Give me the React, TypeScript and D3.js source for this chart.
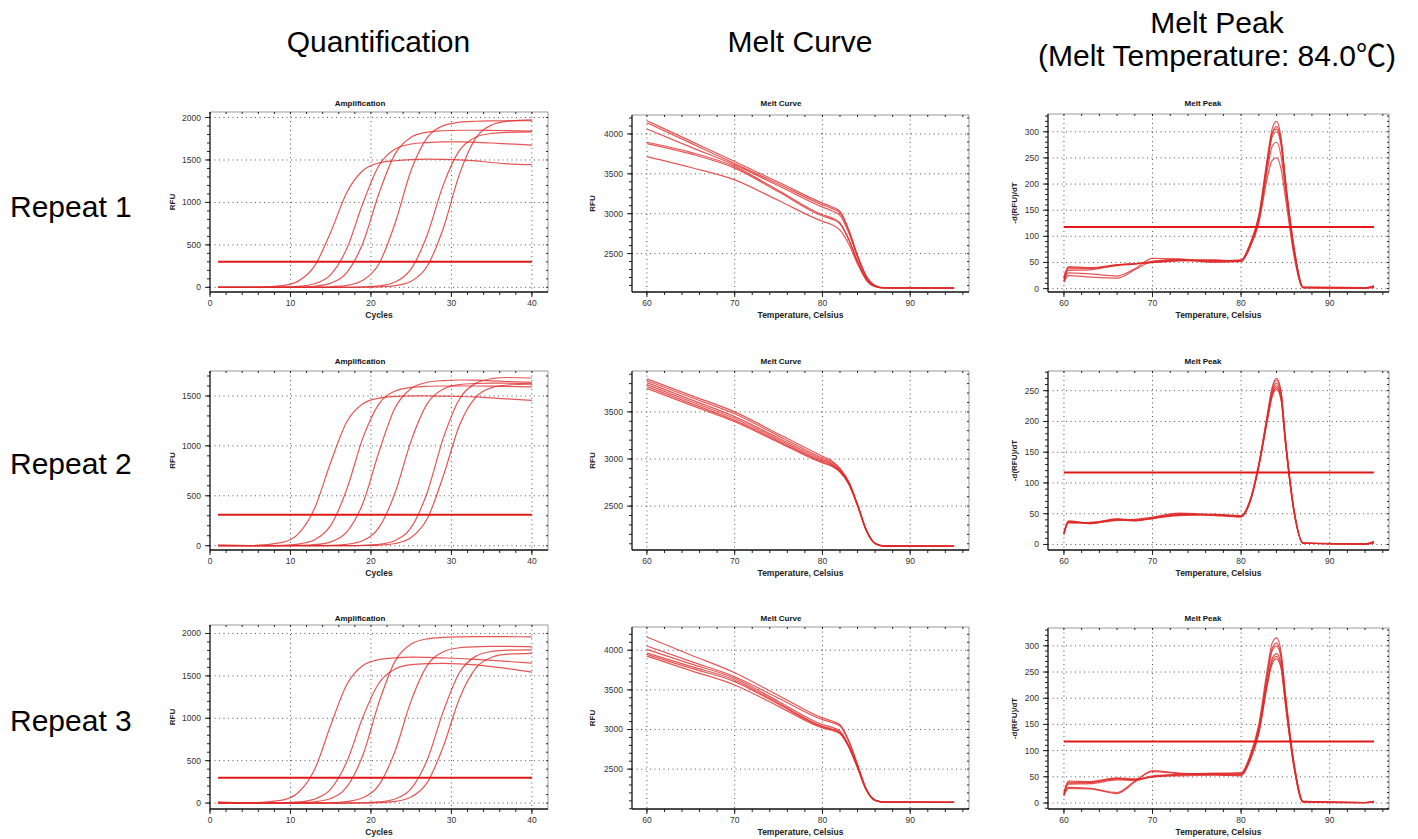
import React from 'react';
import * as d3 from 'd3';

// ---- amplification (RFU vs cycle) ----
const CYCLES = [1, 5, 9, 11, 13, 15, 17, 19, 21, 23, 25, 27, 29, 31, 33, 35, 37, 40];

const AMP_R1 = [
  [0, 1, 21, 76, 252, 650, 1118, 1376, 1466, 1491, 1505, 1510, 1508, 1502, 1490, 1470, 1455, 1445],
  [0, 0, 3, 11, 42, 149, 457, 991, 1435, 1628, 1688, 1705, 1712, 1712, 1708, 1700, 1690, 1675],
  [0, 0, 0, 3, 13, 49, 174, 523, 1108, 1572, 1768, 1827, 1844, 1850, 1850, 1848, 1846, 1840],
  [0, 0, 0, 0, 2, 6, 22, 82, 278, 755, 1382, 1764, 1905, 1945, 1956, 1960, 1962, 1962],
  [0, 0, 0, 0, 0, 0, 1, 5, 17, 63, 218, 620, 1210, 1612, 1768, 1813, 1825, 1830],
  [0, 0, 0, 0, 0, 0, 0, 1, 5, 20, 72, 251, 699, 1333, 1754, 1911, 1957, 1973],
];
const AMP_R2 = [
  [5, 2, 34, 121, 375, 836, 1242, 1422, 1479, 1495, 1500, 1500, 1498, 1495, 1490, 1480, 1470, 1455],
  [3, 0, 4, 16, 59, 203, 566, 1080, 1421, 1549, 1586, 1597, 1600, 1600, 1600, 1598, 1595, 1590],
  [0, 0, 1, 3, 10, 39, 138, 425, 941, 1381, 1575, 1637, 1654, 1660, 1658, 1652, 1645, 1637],
  [0, 0, 0, 0, 1, 4, 14, 52, 183, 530, 1053, 1423, 1570, 1614, 1625, 1628, 1628, 1622],
  [0, 0, 0, 0, 0, 0, 1, 4, 14, 53, 184, 536, 1080, 1470, 1626, 1673, 1685, 1680],
  [0, 0, 0, 0, 0, 0, 0, 2, 6, 22, 82, 272, 701, 1207, 1486, 1583, 1610, 1620],
];
const AMP_R3 = [
  [15, 3, 35, 127, 397, 917, 1398, 1622, 1692, 1712, 1720, 1718, 1712, 1705, 1695, 1682, 1670, 1650],
  [5, 0, 3, 13, 47, 165, 487, 1015, 1416, 1581, 1632, 1645, 1648, 1642, 1630, 1610, 1585, 1545],
  [0, 0, 1, 4, 15, 54, 190, 566, 1188, 1674, 1876, 1937, 1954, 1960, 1962, 1962, 1962, 1960],
  [0, 0, 0, 0, 1, 4, 17, 62, 214, 614, 1208, 1624, 1784, 1832, 1843, 1848, 1848, 1843],
  [0, 0, 0, 0, 0, 0, 1, 3, 13, 48, 170, 512, 1084, 1539, 1730, 1788, 1803, 1806],
  [0, 0, 0, 0, 0, 0, 0, 1, 5, 19, 71, 244, 669, 1234, 1588, 1719, 1756, 1765],
];
const AMP_THRESHOLDS = [300, 310, 300];

// ---- melt curve (RFU vs temperature) ----
const MELT_T = [60, 65, 70, 75, 80, 81, 82, 83, 84, 85, 86, 87, 95];

const MELT_R1 = [
  [4166, 3910, 3654, 3395, 3133, 3090, 3030, 2800, 2480, 2220, 2100, 2072, 2068],
  [4140, 3885, 3630, 3372, 3112, 3070, 3012, 2785, 2465, 2212, 2096, 2071, 2068],
  [4062, 3835, 3612, 3350, 3083, 3040, 2980, 2760, 2450, 2200, 2094, 2070, 2067],
  [3896, 3770, 3591, 3290, 2987, 2950, 2885, 2680, 2400, 2180, 2090, 2069, 2067],
  [3880, 3750, 3572, 3275, 2972, 2935, 2872, 2672, 2395, 2178, 2089, 2069, 2066],
  [3716, 3580, 3425, 3165, 2904, 2865, 2795, 2620, 2370, 2165, 2085, 2068, 2066],
];
const MELT_R2 = [
  [3850, 3675, 3500, 3265, 3030, 2985, 2900, 2760, 2520, 2250, 2105, 2078, 2075],
  [3830, 3655, 3480, 3245, 3010, 2970, 2890, 2750, 2515, 2245, 2104, 2078, 2075],
  [3810, 3630, 3450, 3222, 2995, 2955, 2880, 2745, 2510, 2244, 2104, 2077, 2074],
  [3790, 3610, 3430, 3205, 2980, 2943, 2872, 2740, 2508, 2242, 2103, 2077, 2074],
  [3770, 3590, 3410, 3189, 2968, 2933, 2866, 2736, 2505, 2240, 2102, 2076, 2073],
  [3750, 3572, 3395, 3176, 2958, 2925, 2860, 2732, 2502, 2238, 2101, 2076, 2073],
];
const MELT_R3 = [
  [4166, 3940, 3716, 3430, 3146, 3110, 3060, 2860, 2560, 2250, 2110, 2085, 2083],
  [4054, 3860, 3666, 3395, 3125, 3090, 3045, 2850, 2550, 2245, 2108, 2085, 2083],
  [4009, 3828, 3646, 3354, 3062, 3030, 2980, 2800, 2530, 2240, 2107, 2084, 2082],
  [3966, 3796, 3625, 3333, 3041, 3010, 2965, 2790, 2525, 2238, 2106, 2084, 2082],
  [3946, 3775, 3604, 3318, 3033, 3000, 2955, 2783, 2520, 2236, 2106, 2084, 2082],
  [3925, 3743, 3562, 3292, 3021, 2990, 2945, 2775, 2515, 2234, 2105, 2083, 2082],
];

// ---- melt peak (-d(RFU)/dT vs temperature) ----
const PEAK_T = [60, 60.5, 63, 66, 68, 70, 73, 77, 80, 81, 82, 83, 83.5, 84, 84.5, 85, 86, 87, 94, 95];

const PEAK_R1 = [
  [20, 42, 40, 46, 48, 50, 54, 53, 54, 85, 140, 255, 305, 320, 290, 210, 78, 3, 2, 4],
  [15, 38, 38, 44, 47, 52, 55, 54, 53, 82, 135, 245, 295, 310, 285, 205, 72, 2, 1, 5],
  [18, 35, 36, 45, 48, 50, 53, 55, 52, 80, 132, 240, 290, 300, 275, 200, 70, 2, 1, 3],
  [14, 30, 28, 24, 38, 58, 57, 53, 55, 84, 130, 230, 272, 280, 255, 190, 66, 2, 1, 2],
  [12, 25, 22, 20, 36, 52, 56, 50, 52, 78, 125, 215, 245, 250, 230, 175, 60, 2, 1, 3],
  [22, 40, 39, 45, 47, 50, 54, 52, 53, 84, 138, 248, 298, 305, 282, 205, 75, 3, 2, 6],
];
const PEAK_R2 = [
  [18, 38, 35, 40, 40, 43, 48, 48, 46, 70, 130, 215, 255, 270, 250, 175, 55, 3, 1, 4],
  [16, 36, 35, 39, 41, 44, 50, 47, 45, 68, 128, 212, 252, 267, 248, 172, 54, 2, 1, 3],
  [20, 37, 34, 41, 39, 42, 49, 49, 47, 72, 132, 210, 248, 262, 245, 170, 52, 2, 1, 5],
  [17, 35, 36, 40, 38, 44, 51, 48, 46, 70, 126, 208, 245, 258, 240, 168, 52, 2, 0, 2],
  [19, 38, 35, 42, 40, 43, 47, 49, 45, 69, 127, 205, 242, 255, 238, 166, 50, 2, 1, 3],
  [18, 36, 34, 40, 39, 42, 48, 48, 46, 71, 129, 204, 240, 252, 236, 165, 50, 2, 1, 4],
];
const PEAK_R3 = [
  [18, 40, 40, 47, 45, 50, 55, 57, 58, 90, 150, 260, 305, 315, 290, 210, 75, 3, 1, 2],
  [15, 38, 39, 46, 44, 52, 54, 56, 56, 88, 145, 250, 295, 305, 282, 205, 72, 3, 1, 3],
  [20, 42, 41, 48, 46, 50, 53, 55, 55, 86, 142, 245, 290, 300, 278, 200, 70, 2, 1, 2],
  [14, 28, 27, 18, 40, 62, 57, 55, 54, 84, 138, 235, 275, 285, 268, 195, 68, 2, 0, 2],
  [16, 30, 28, 20, 42, 60, 56, 54, 53, 82, 135, 232, 270, 280, 262, 192, 66, 2, 1, 3],
  [17, 36, 37, 44, 43, 50, 52, 53, 52, 80, 132, 228, 265, 275, 258, 188, 65, 2, 1, 2],
];
const PEAK_THRESHOLDS = [118, 117, 117.5];

// tick labels
const AMP_X_TICKS = [0, 10, 20, 30, 40];
const AMP_Y_TICKS = [0, 500, 1000, 1500, 2000];
const TEMP_X_TICKS = [60, 70, 80, 90];
const MELT_Y_TICKS = [2500, 3000, 3500, 4000];
const PEAK_Y_TICKS = [0, 50, 100, 150, 200, 250, 300];

const COLUMN_HEADERS = ['Quantification', 'Melt Curve'];
const PEAK_HEADER = ['Melt Peak', '(Melt Temperature: 84.0\u2103)'];
const ROW_LABELS = ['Repeat 1', 'Repeat 2', 'Repeat 3'];

const FONT = '"Liberation Sans", Arial, "Noto Sans CJK SC", sans-serif';
const RED = '#e02a2a';

type PanelProps = {
  left: number; right: number; top: number; bottom: number;
  xDomain: [number, number]; yDomain: [number, number];
  xTicks: number[]; yTicks: number[]; xStep: number; yStep: number;
  title: string; titleX: number; titleY: number;
  xLabel: string; yLabel: string; yLabelX: number;
  xs: number[]; series: number[][];
  threshold: number; thrRange: [number, number];
};

function Panel(p: PanelProps) {
  const x = d3.scaleLinear().domain(p.xDomain).range([p.left, p.right]);
  const y = d3.scaleLinear().domain(p.yDomain).range([p.bottom, p.top]);
  const line = d3.line<[number, number]>()
    .x(d => x(d[0]))
    .y(d => y(d[1]))
    .curve(d3.curveMonotoneX);

  const xMinor = d3.range(Math.ceil(p.xDomain[0] / p.xStep) * p.xStep, p.xDomain[1], p.xStep);
  const yMinor = d3.range(Math.ceil(p.yDomain[0] / p.yStep) * p.yStep, p.yDomain[1], p.yStep);

  return (
    <g fontFamily={FONT}>
      <text x={p.titleX} y={p.titleY} textAnchor="middle" fontSize={8} fontWeight="bold" fill="#111">{p.title}</text>

      {/* dotted grid */}
      <g stroke="#555" strokeWidth={1} strokeDasharray="1 3.5">
        {p.xTicks.filter(t => x(t) > p.left + 1).map(t => (
          <line key={'gx' + t} x1={x(t)} x2={x(t)} y1={p.top} y2={p.bottom} />
        ))}
        {p.yTicks.filter(t => y(t) < p.bottom - 1).map(t => (
          <line key={'gy' + t} x1={p.left} x2={p.right} y1={y(t)} y2={y(t)} />
        ))}
      </g>

      {/* frame */}
      <line x1={p.left} x2={p.right} y1={p.top} y2={p.top} stroke="#999" />
      <line x1={p.right} x2={p.right} y1={p.top} y2={p.bottom} stroke="#999" />
      <g stroke="#222" strokeWidth={1}>
        {xMinor.map(t => (
          <g key={'mx' + t}>
            <line x1={x(t)} x2={x(t)} y1={p.bottom} y2={p.bottom + 3} />
            <line x1={x(t)} x2={x(t)} y1={p.top} y2={p.top + 2} />
          </g>
        ))}
        {yMinor.map(t => (
          <g key={'my' + t}>
            <line x1={p.left - 3} x2={p.left} y1={y(t)} y2={y(t)} />
            <line x1={p.right - 2} x2={p.right} y1={y(t)} y2={y(t)} />
          </g>
        ))}
        {p.xTicks.map(t => (
          <line key={'tx' + t} x1={x(t)} x2={x(t)} y1={p.bottom} y2={p.bottom + 5} />
        ))}
        {p.yTicks.map(t => (
          <line key={'ty' + t} x1={p.left - 5} x2={p.left} y1={y(t)} y2={y(t)} />
        ))}
      </g>
      <line x1={p.left} x2={p.left} y1={p.top} y2={p.bottom} stroke="#111" strokeWidth={1.3} />
      <line x1={p.left} x2={p.right} y1={p.bottom} y2={p.bottom} stroke="#111" strokeWidth={1.3} />

      {/* tick labels */}
      <g fontSize={8.5} fill="#333">
        {p.xTicks.map(t => (
          <text key={'lx' + t} x={x(t)} y={p.bottom + 14} textAnchor="middle">{t}</text>
        ))}
        {p.yTicks.map(t => (
          <text key={'ly' + t} x={p.left - 9} y={y(t) + 3} textAnchor="end">{t}</text>
        ))}
      </g>

      <text x={(p.left + p.right) / 2} y={p.bottom + 26} textAnchor="middle" fontSize={8.5} fontWeight="bold" fill="#222">{p.xLabel}</text>
      <text transform={`translate(${p.yLabelX},${(p.top + p.bottom) / 2}) rotate(-90)`} textAnchor="middle" fontSize={8} fontWeight="bold" fill="#222">{p.yLabel}</text>

      {/* curves */}
      <g fill="none" stroke={RED} strokeWidth={1.2} strokeOpacity={0.8}>
        {p.series.map((s, i) => (
          <path key={'s' + i} d={line(p.xs.map((v, j) => [v, s[j]] as [number, number])) || ''} />
        ))}
      </g>
      {Number.isFinite(p.threshold) && (
        <line x1={x(p.thrRange[0])} x2={x(p.thrRange[1])} y1={y(p.threshold)} y2={y(p.threshold)} stroke="#e01818" strokeWidth={2} />
      )}
    </g>
  );
}

// frame boxes per row: [top, bottom] for the three columns
const ROW_FRAMES: [number, number][][] = [
  [[112, 292], [115, 292], [114, 292]],
  [[371, 550], [371, 550], [371, 550]],
  [[625, 809], [627, 809], [628, 809]],
];
const TITLE_Y = [106, 364, 621];
const LABEL_Y = [217, 474, 731];

export default function App() {
  const ampRows = [AMP_R1, AMP_R2, AMP_R3];
  const meltRows = [MELT_R1, MELT_R2, MELT_R3];
  const peakRows = [PEAK_R1, PEAK_R2, PEAK_R3];
  const ampY: [number, number][] = [[-55, 2065], [-43, 1750], [-70, 2100]];
  const meltY: [number, number][] = [[2018, 4238], [2034, 3934], [1997, 4293]];
  const peakY: [number, number][] = [[-6.5, 334], [-9, 282], [-11.4, 334]];

  return (
    <div style={{ position: 'absolute', left: 0, top: 0, background: '#fff' }}>
      <svg width={1418} height={839} style={{ display: 'block' }}>
        <rect width={1418} height={839} fill="#fff" />
        <g fontFamily={FONT} fontSize={30} fill="#000">
          <text x={378.5} y={52} textAnchor="middle">{COLUMN_HEADERS[0]}</text>
          <text x={800} y={52} textAnchor="middle">{COLUMN_HEADERS[1]}</text>
          <text x={1217} y={33} textAnchor="middle">{PEAK_HEADER[0]}</text>
          <text x={1217} y={66} textAnchor="middle">{PEAK_HEADER[1]}</text>
          {ROW_LABELS.map((l, i) => (
            <text key={l} x={10} y={LABEL_Y[i]}>{l}</text>
          ))}
        </g>
        {[0, 1, 2].map(r => (
          <g key={'row' + r}>
            <Panel
              left={210} right={548} top={ROW_FRAMES[r][0][0]} bottom={ROW_FRAMES[r][0][1]}
              xDomain={[0, 42]} yDomain={ampY[r]}
              xTicks={AMP_X_TICKS} yTicks={AMP_Y_TICKS.filter(t => t < ampY[r][1])}
              xStep={2} yStep={100}
              title="Amplification" titleX={360} titleY={TITLE_Y[r]}
              xLabel="Cycles" yLabel="RFU" yLabelX={175}
              xs={CYCLES} series={ampRows[r]}
              threshold={AMP_THRESHOLDS[r]} thrRange={[1, 40]}
            />
            <Panel
              left={632} right={969} top={ROW_FRAMES[r][1][0]} bottom={ROW_FRAMES[r][1][1]}
              xDomain={[58.3, 96.7]} yDomain={meltY[r]}
              xTicks={TEMP_X_TICKS} yTicks={MELT_Y_TICKS.filter(t => t < meltY[r][1])}
              xStep={2} yStep={100}
              title="Melt Curve" titleX={781} titleY={TITLE_Y[r]}
              xLabel="Temperature, Celsius" yLabel="RFU" yLabelX={595}
              xs={MELT_T} series={meltRows[r]}
              threshold={NaN} thrRange={[60, 60]}
            />
            <Panel
              left={1048} right={1389} top={ROW_FRAMES[r][2][0]} bottom={ROW_FRAMES[r][2][1]}
              xDomain={[58.2, 96.7]} yDomain={peakY[r]}
              xTicks={TEMP_X_TICKS} yTicks={PEAK_Y_TICKS.filter(t => t < peakY[r][1])}
              xStep={2} yStep={10}
              title="Melt Peak" titleX={1203} titleY={TITLE_Y[r]}
              xLabel="Temperature, Celsius" yLabel="-d(RFU)/dT" yLabelX={1017}
              xs={PEAK_T} series={peakRows[r]}
              threshold={PEAK_THRESHOLDS[r]} thrRange={[60, 95]}
            />
          </g>
        ))}
      </svg>
    </div>
  );
}
